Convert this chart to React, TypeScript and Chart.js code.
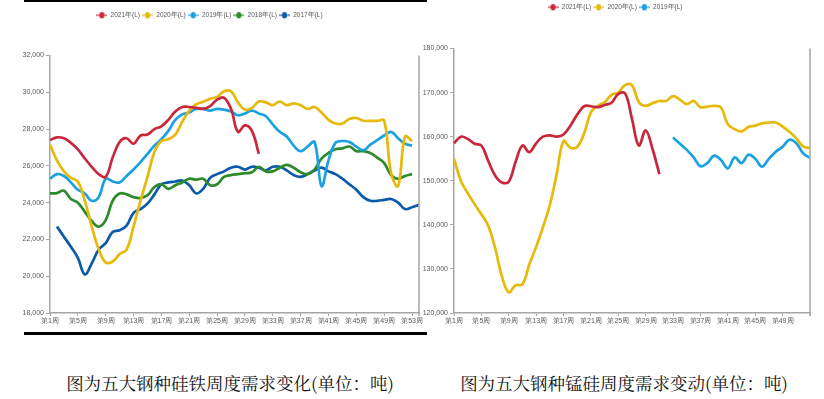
import React, { useEffect, useRef } from "react";
import { Chart, registerables } from "chart.js";
Chart.register(...registerables);

// ---------- categories ----------
const weeksFerro: string[] = Array.from({ length: 54 }, (_, i) => `第${i + 1}周`);
const weeksMnSi: string[] = Array.from({ length: 53 }, (_, i) => `第${i + 1}周`);

// ---------- 硅铁 (left) ----------
const ferro2021 = [27400, 27550, 27500, 27250, 26900, 26400, 25950, 25550, 25400, 26450,
  27300, 27500, 27200, 27650, 27700, 28000, 28150, 28500, 28950, 29200,
  29200, 29150, 29100, 29250, 29600, 29700, 29100, 27850, 28200, 27900, 26650];
const ferro2020 = [27150, 26300, 25700, 25350, 25150, 24100, 22700, 21450, 20750, 20800,
  21200, 21450, 22700, 24100, 25400, 26750, 27350, 27450, 27700, 28400,
  29000, 29350, 29480, 29650, 29750, 30050, 30050, 29450, 29050, 29150,
  29500, 29450, 29300, 29500, 29300, 29400, 29300, 29100, 29200, 28900,
  28500, 28300, 28300, 28550, 28600, 28450, 28450, 28450, 28450, 25600,
  24900, 27600, 27350];
const ferro2019 = [25300, 25550, 25450, 25100, 24700, 24500, 24100, 24300, 25300, 25150,
  25100, 25450, 25800, 26200, 26650, 27100, 27450, 27900, 28500, 28800,
  28900, 29100, 29100, 29000, 29100, 29050, 28950, 28750, 28850, 29000,
  28850, 28700, 28250, 27850, 27600, 27100, 26800, 27050, 27300, 24900,
  26300, 27250, 27350, 27300, 27050, 26850, 27150, 27400, 27650, 27850,
  27500, 27200, 27100];
const ferro2018 = [24500, 24520, 24650, 24200, 24000, 23500, 23000, 22700, 23050, 24100,
  24500, 24450, 24300, 24250, 24400, 24850, 25000, 24750, 24950, 25100,
  25300, 25250, 25300, 24950, 25000, 25400, 25500, 25550, 25600, 25650,
  25950, 25700, 25700, 25900, 26050, 25900, 25650, 25550, 25800, 26400,
  26700, 26900, 26950, 27050, 26800, 26800, 26700, 26450, 26150, 25500,
  25300, 25450, 25550];
const ferro2017 = [null, 22700, 22150, 21600, 21000, 20100, 20700, 21450, 21800, 22400,
  22500, 22750, 23450, 23650, 23950, 24450, 25000, 25100, 25150, 25200,
  24950, 24500, 24750, 25350, 25550, 25700, 25900, 25950, 25800, 25950,
  25900, 25750, 25950, 25950, 25750, 25500, 25400, 25550, 25750, 25900,
  25700, 25550, 25300, 25000, 24700, 24300, 24100, 24100, 24150, 24200,
  24000, 23650, 23750, 23880];

// ---------- 锰硅 (right) ----------
const mnsi2021 = [158500, 160000, 159500, 158400, 158000, 154500, 151200, 149600, 149800, 154300,
  158000, 156500, 158500, 160000, 160300, 160000, 160500, 162500, 165000, 166900,
  166900, 166700, 167200, 167700, 169700, 169800, 164000, 158000, 161400, 157200,
  151500];
const mnsi2020 = [155000, 150000, 147200, 144700, 142400, 139800, 134800, 128300, 124700, 126300,
  126500, 131000, 135000, 139500, 144500, 151500, 159000, 157500, 157700, 160700,
  165500, 167000, 167800, 169500, 170000, 171700, 171700, 167800, 167000, 167600,
  168100, 168100, 169200, 168400, 167400, 168100, 166700, 166800, 167000, 166600,
  162800, 161700, 161200, 162200, 162500, 163000, 163200, 163200, 162300, 161100,
  159600, 157800, 157400];
const mnsi2019 = [null, null, null, null, null, null, null, null, null, null,
  null, null, null, null, null, null, null, null, null, null,
  null, null, null, null, null, null, null, null, null, null,
  null, null, 159800, 158400, 157000, 155300, 153300, 154000, 155700, 154700,
  152800, 155300, 154000, 155900, 155000, 153200, 155000, 156600, 157700, 159300,
  158500, 156200, 155200];

const ferroTicks = { min: 18000, max: 32000, step: 2000 };
const mnsiTicks = { min: 120000, max: 180000, step: 10000 };

const COLORS = {
  y2021: "#C8283C",
  y2020: "#E6B90A",
  y2019: "#1BA1E2",
  y2018: "#2D8A2A",
  y2017: "#0B5AAA",
};

const FONT = "'Liberation Sans Narrow', 'Arial Narrow', 'Liberation Sans', Arial, sans-serif";
const AXIS = "#A6A6A6";
const TXT = "#595959";

function marker(color: string) {
  const c = document.createElement("canvas");
  c.width = 11;
  c.height = 8;
  const g = c.getContext("2d")!;
  g.strokeStyle = color;
  g.lineWidth = 1.2;
  g.beginPath();
  g.moveTo(0, 4);
  g.lineTo(11, 4);
  g.stroke();
  g.fillStyle = color;
  g.beginPath();
  g.ellipse(5.5, 4, 2.5, 3.3, 0, 0, Math.PI * 2);
  g.fill();
  return c;
}

const rightBorder = {
  id: "rightBorder",
  afterDraw(chart: any) {
    const { ctx, chartArea } = chart;
    ctx.save();
    ctx.strokeStyle = AXIS;
    ctx.lineWidth = 1.5;
    ctx.beginPath();
    ctx.moveTo(chartArea.right, chartArea.top);
    ctx.lineTo(chartArea.right, chartArea.bottom + 3);
    ctx.stroke();
    ctx.restore();
  },
};

function legendGap(gap: number) {
  return {
    id: "legendGap",
    beforeLayout(chart: any) {
      const lg = chart.legend;
      if (lg && !lg._gapPatched) {
        const f = lg.fit;
        lg.fit = function () {
          f.call(this);
          this.height += gap;
        };
        lg._gapPatched = true;
      }
    },
  };
}

function makeConfig(o: any) {
  const lastShown = o.lastShown;
  return {
    type: "line",
    data: {
      labels: o.labels,
      datasets: o.series.map((s: any) => ({
        label: s.label,
        data: s.data,
        borderColor: s.color,
        backgroundColor: s.color,
        borderWidth: 2.7,
        pointRadius: 0,
        pointStyle: marker(s.color),
        tension: 0.4,
        spanGaps: false,
        fill: false,
      })),
    },
    options: {
      responsive: false,
      animation: false,
      events: [],
      layout: { padding: o.padding },
      plugins: {
        legend: {
          display: true,
          position: "top",
          align: "center",
          labels: {
            usePointStyle: true,
            pointStyleWidth: 11,
            boxHeight: 7,
            padding: 2,
            color: TXT,
            font: { family: FONT, size: 6.5 },
          },
        },
        tooltip: { enabled: false },
      },
      scales: {
        x: {
          type: "category",
          offset: false,
          afterFit: (s: any) => {
            s.height = 20;
          },
          grid: {
            drawOnChartArea: false,
            drawTicks: true,
            tickLength: 3,
            color: (c: any) => (c.index % 4 === 0 ? AXIS : "rgba(0,0,0,0)"),
          },
          border: { display: true, color: AXIS, width: 1.5 },
          ticks: {
            autoSkip: false,
            maxRotation: 0,
            minRotation: 0,
            padding: 1,
            color: TXT,
            font: { family: FONT, size: 7 },
            callback: (_v: any, i: number) => (i % 4 === 0 && i <= lastShown ? o.labels[i] : ""),
          },
        },
        y: {
          min: o.ticks.min,
          max: o.ticks.max,
          afterFit: (s: any) => {
            s.width = o.yWidth;
          },
          grid: { drawOnChartArea: false, drawTicks: true, tickLength: 4, color: AXIS },
          border: { display: true, color: AXIS, width: 1.5 },
          ticks: {
            stepSize: o.ticks.step,
            padding: 2,
            color: TXT,
            font: { family: FONT, size: 7 },
            callback: (v: number) => v.toLocaleString("en-US"),
          },
        },
      },
    },
    plugins: [rightBorder, legendGap(o.gap)],
  };
}

function ChartCanvas({ config, left, top, width, height }: any) {
  const ref = useRef<HTMLCanvasElement>(null);
  useEffect(() => {
    const chart = new Chart(ref.current as any, config() as any);
    return () => chart.destroy();
  }, []);
  return (
    <canvas
      ref={ref}
      width={width}
      height={height}
      style={{ position: "absolute", left, top, width, height }}
    />
  );
}

const leftConfig = () =>
  makeConfig({
    labels: weeksFerro,
    lastShown: 52,
    ticks: ferroTicks,
    yWidth: 50,
    padding: { left: 0, right: 11, top: 10, bottom: 3 },
    gap: 27,
    series: [
      { label: "2021年(L)", data: ferro2021, color: COLORS.y2021 },
      { label: "2020年(L)", data: ferro2020, color: COLORS.y2020 },
      { label: "2019年(L)", data: ferro2019, color: COLORS.y2019 },
      { label: "2018年(L)", data: ferro2018, color: COLORS.y2018 },
      { label: "2017年(L)", data: ferro2017, color: COLORS.y2017 },
    ],
  });

const rightConfig = () =>
  makeConfig({
    labels: weeksMnSi,
    lastShown: 48,
    ticks: mnsiTicks,
    yWidth: 34,
    padding: { left: 0, right: 14, top: 2, bottom: 3 },
    gap: 28,
    series: [
      { label: "2021年(L)", data: mnsi2021, color: COLORS.y2021 },
      { label: "2020年(L)", data: mnsi2020, color: COLORS.y2020 },
      { label: "2019年(L)", data: mnsi2019, color: COLORS.y2019 },
    ],
  });

const captionStyle: React.CSSProperties = {
  position: "absolute",
  top: 371,
  fontSize: 17.5,
  lineHeight: "24px",
  fontFamily: "'Noto Serif CJK SC', 'Noto Sans CJK SC', serif",
  color: "#111",
  whiteSpace: "nowrap",
  textAlign: "center",
};

export default function App() {
  return (
    <div style={{ position: "absolute", left: 0, top: 0, width: 824, height: 399, background: "#fff", overflow: "hidden" }}>
      <ChartCanvas config={leftConfig} left={0} top={0} width={430} height={336} />
      <ChartCanvas config={rightConfig} left={420} top={0} width={404} height={336} />
      <div style={{ position: "absolute", left: 24, top: 0, width: 403, height: 2, background: "#000" }} />
      <div style={{ position: "absolute", left: 24, top: 332, width: 403, height: 3, background: "#000" }} />
      <div style={{ ...captionStyle, left: 30, width: 400 }}>图为五大钢种硅铁周度需求变化(单位：吨)</div>
      <div style={{ ...captionStyle, left: 424, width: 400 }}>图为五大钢种锰硅周度需求变动(单位：吨)</div>
    </div>
  );
}
